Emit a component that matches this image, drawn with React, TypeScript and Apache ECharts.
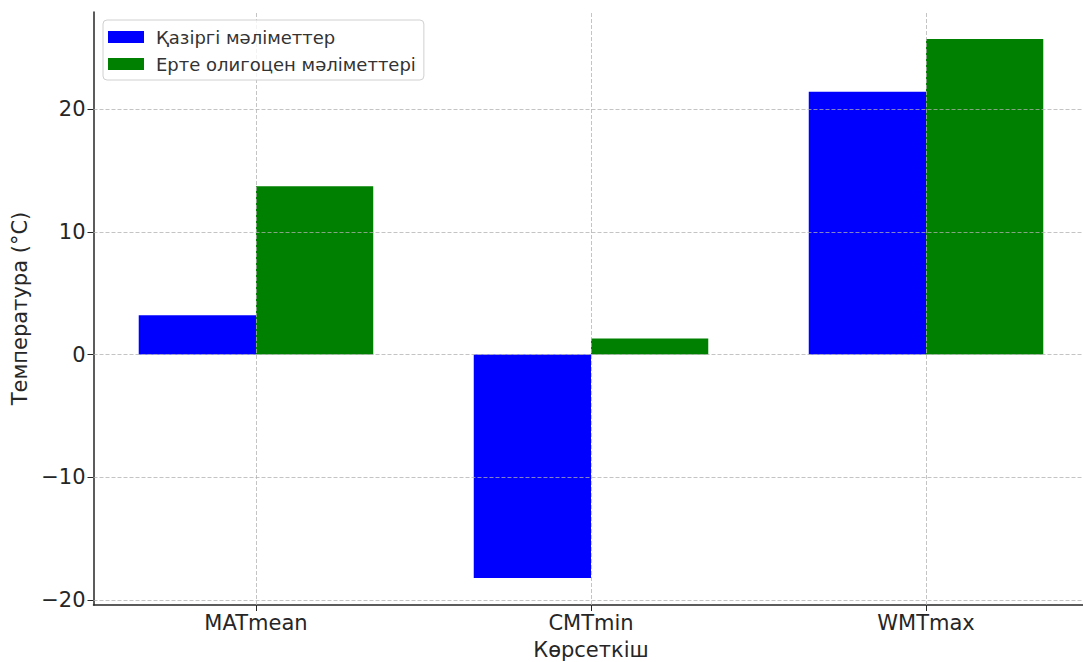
import React, { useEffect, useRef } from "react";
import * as echarts from "echarts";

const categories = ["MATmean", "CMTmin", "WMTmax"];
const seriesNames = ["Қазіргі мәліметтер", "Ерте олигоцен мәліметтері"];
const currentValues = [3.2, -18.2, 21.4];
const oligoceneValues = [13.7, 1.3, 25.7];
const yTicks = [-20, -10, 0, 10, 20];
const xTicks = [0, 1, 2];

const FONT = "DejaVu Sans";
const BAR_W = 0.35;

export default function App() {
  const ref = useRef<HTMLDivElement>(null);
  useEffect(() => {
    if (!ref.current) return;
    const chart = echarts.init(ref.current, null, { renderer: "svg" });
    const all = [...currentValues, ...oligoceneValues];
    const lo = Math.min(...all);
    const hi = Math.max(...all);
    const yPad = 0.05 * (hi - lo);
    const xLo = -BAR_W;
    const xHi = categories.length - 1 + BAR_W;
    const xPad = 0.05 * (xHi - xLo);
    const gridW = 995;
    const pxPerUnit = gridW / (xHi - xLo + 2 * xPad);
    const barPx = BAR_W * pxPerUnit;
    const fmtMinus = (v: number) => String(v).replace("-", "\u2212");
    const gridLine = {
      color: "rgba(176,176,176,0.75)",
      width: 1,
      type: [4, 2] as any,
    };
    chart.setOption({
      animation: false,
      textStyle: { fontFamily: FONT },
      grid: {
        left: 93.5,
        top: 12,
        width: gridW,
        height: 593,
        outerBoundsMode: "none",
        containLabel: false,
      },
      legend: {
        data: seriesNames,
        orient: "vertical",
        left: 103,
        top: 20,
        icon: "rect",
        itemWidth: 36,
        itemHeight: 12,
        itemGap: 7,
        padding: [7, 8, 6, 5],
        borderColor: "#d0d0d0",
        borderWidth: 1,
        borderRadius: 4,
        backgroundColor: "rgba(255,255,255,0.8)",
        z: 10,
        textStyle: {
          fontFamily: FONT,
          fontSize: 18,
          color: "#333",
          lineHeight: 20,
          padding: [0, 0, 0, 7],
        },
      },
      xAxis: {
        type: "value",
        min: xLo - xPad,
        max: xHi + xPad,
        name: "Көрсеткіш",
        nameLocation: "middle",
        nameGap: 34,
        nameTextStyle: { fontFamily: FONT, fontSize: 21, color: "#262626" },
        axisLine: { show: true, onZero: false, lineStyle: { color: "#262626", width: 1.5 } },
        axisTick: { show: true, length: 6, customValues: xTicks, lineStyle: { color: "#262626" } },
        axisLabel: {
          customValues: xTicks,
          margin: 7,
          fontFamily: FONT,
          fontSize: 21,
          color: "#262626",
          formatter: (v: number) => categories[Math.round(v)] ?? "",
        },
        splitLine: { show: false },
      },
      yAxis: {
        type: "value",
        min: lo - yPad,
        max: hi + yPad,
        name: "Температура (°C)",
        nameLocation: "middle",
        nameGap: 59,
        nameTextStyle: { fontFamily: FONT, fontSize: 21, color: "#262626" },
        axisLine: { show: true, onZero: false, lineStyle: { color: "#262626", width: 1.5 } },
        axisTick: { show: true, length: 6, customValues: yTicks, lineStyle: { color: "#262626" } },
        axisLabel: {
          customValues: yTicks,
          margin: 8,
          fontFamily: FONT,
          fontSize: 21,
          color: "#262626",
          formatter: (v: number) => fmtMinus(v),
        },
        splitLine: { show: false },
      },
      series: [
        {
          name: seriesNames[0],
          type: "bar",
          barWidth: barPx,
          barGap: "0%",
          itemStyle: { color: "#0000ff" },
          data: categories.map((_, i) => [i, currentValues[i]]),
        },
        {
          name: seriesNames[1],
          type: "bar",
          barWidth: barPx,
          barGap: "0%",
          itemStyle: { color: "#008000" },
          data: categories.map((_, i) => [i, oligoceneValues[i]]),
        },
        {
          name: "grid",
          type: "line",
          data: [],
          z: 5,
          markLine: {
            silent: true,
            symbol: ["none", "none"],
            label: { show: false },
            lineStyle: gridLine,
            data: [
              ...yTicks.map((v) => ({ yAxis: v })),
              ...xTicks.map((v) => ({ xAxis: v })),
            ],
          },
        },
      ],
    });
    return () => chart.dispose();
  }, []);
  return (
    <div
      ref={ref}
      style={{ position: "absolute", left: 0, top: 0, width: 1083, height: 662 }}
    />
  );
}
